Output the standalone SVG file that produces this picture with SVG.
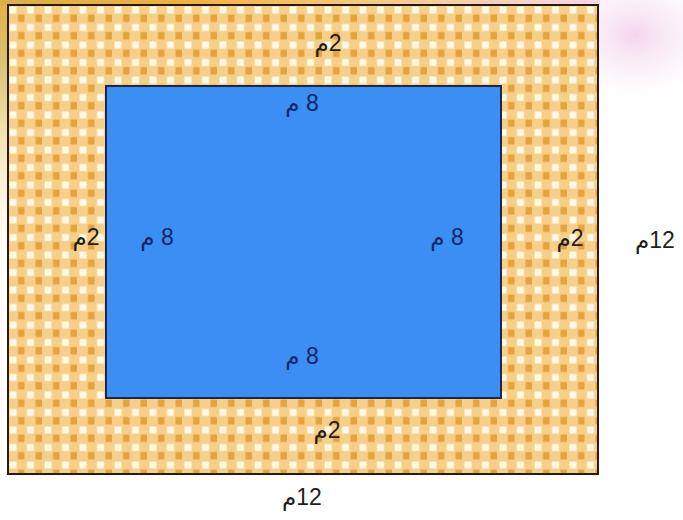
<svg xmlns="http://www.w3.org/2000/svg" width="683" height="520" viewBox="0 0 683 520">
  <defs>
    <pattern id="gingham" patternUnits="userSpaceOnUse" x="8" y="5" width="17.5" height="17.5">
      <rect width="17.5" height="17.5" fill="#f6d08a"/>
      <rect x="1.5" y="1.5" width="7" height="7" fill="#fff9e6"/>
      <rect x="10" y="9.5" width="6.5" height="7.5" fill="#e5a43a"/>
    </pattern>
    <radialGradient id="pink" cx="0.5" cy="0.5" r="0.5">
      <stop offset="0" stop-color="#f0c8e8" stop-opacity="0.75"/>
      <stop offset="0.6" stop-color="#f8e4f4" stop-opacity="0.4"/>
      <stop offset="1" stop-color="#ffffff" stop-opacity="0"/>
    </radialGradient>
    <linearGradient id="leftedge" x1="0" y1="0" x2="0" y2="1">
      <stop offset="0" stop-color="#e8b040"/>
      <stop offset="0.2" stop-color="#d9c070"/>
      <stop offset="0.45" stop-color="#f4e2b0"/>
      <stop offset="1" stop-color="#ffffff" stop-opacity="0"/>
    </linearGradient>
    <linearGradient id="topedge" x1="0" y1="0" x2="1" y2="0">
      <stop offset="0" stop-color="#d8b048"/>
      <stop offset="0.3" stop-color="#f0b040"/>
      <stop offset="0.6" stop-color="#f6c880"/>
      <stop offset="1" stop-color="#f6d8e8"/>
    </linearGradient>
    <style>
      .lbl { font-family: "Liberation Sans", "DejaVu Sans", sans-serif; font-size: 23px; text-anchor: middle; direction: rtl; }
      .out { fill: #1e1e1e; }
      .in { fill: #14256a; }
    </style>
  </defs>

  <rect width="683" height="520" fill="#ffffff"/>
  <g id="background">
    <ellipse cx="635" cy="35" rx="90" ry="70" fill="url(#pink)"/>
    <rect x="0" y="0" width="9" height="300" fill="url(#leftedge)"/>
    <rect x="0" y="0" width="600" height="6" fill="url(#topedge)"/>
  </g>

  <g id="outer-frame">
    <rect x="8" y="5" width="590" height="469" fill="url(#gingham)" stroke="#2a1a10" stroke-width="2"/>
  </g>

  <g id="pool">
    <rect x="106" y="86" width="395" height="312" fill="#3b8ef2" stroke="#1a2850" stroke-width="2"/>
  </g>

  <g id="labels">
    <text class="lbl out" x="328" y="51">2م</text>
    <text class="lbl out" x="86" y="245">2م</text>
    <text class="lbl out" x="570" y="246">2م</text>
    <text class="lbl out" x="327" y="438">2م</text>
    <text class="lbl in" x="302" y="111">8 م</text>
    <text class="lbl in" x="157" y="245">8 م</text>
    <text class="lbl in" x="447" y="245">8 م</text>
    <text class="lbl in" x="302" y="364">8 م</text>
    <text class="lbl out" x="655" y="248">12م</text>
    <text class="lbl out" x="302" y="505">12م</text>
  </g>
</svg>
